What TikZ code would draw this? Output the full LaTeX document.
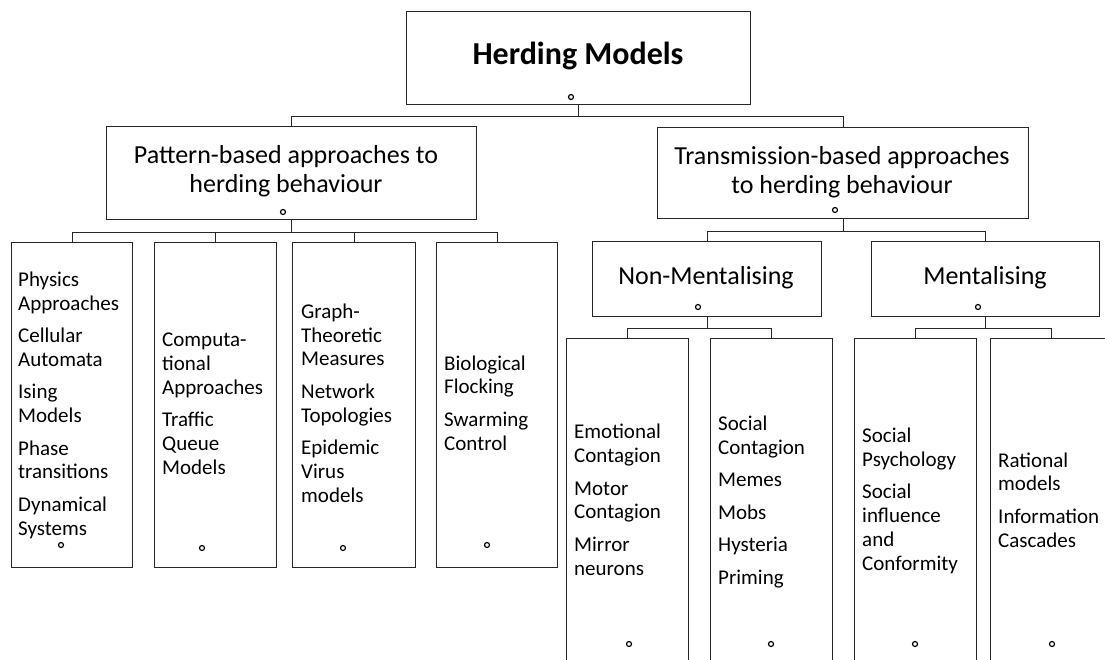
\documentclass[tikz,border=0pt]{standalone}
\usepackage{fontspec}
\setmainfont{Carlito}
\begin{document}
\begin{tikzpicture}[x=1pt,y=-1pt,
  box/.style={draw=black!85, line width=1.1pt, inner sep=0pt, anchor=north west},
  conn/.style={draw=black!85, line width=1pt},
  dot/.style={circle, draw=black, line width=1.2pt, inner sep=0pt, minimum size=5pt},
  titletext/.style={anchor=base, inner sep=0pt, font=\bfseries\fontsize{32}{38}\selectfont},
  midtext/.style={anchor=base, inner sep=0pt, align=center, font=\fontsize{26}{29}\selectfont},
  leaftext/.style={anchor=base west, inner sep=0pt, align=left, font=\fontsize{21}{23.7}\selectfont}]
\clip (0,0) rectangle (1105,659);
\fill[white] (0,0) rectangle (1105,659);

% boxes
\node[box, minimum width=344pt, minimum height=93pt] (root) at (406,11) {};
\node[box, minimum width=370pt, minimum height=93pt] (pat) at (106,126) {};
\node[box, minimum width=371pt, minimum height=91pt] (tra) at (657,127) {};
\node[box, minimum width=229pt, minimum height=75pt] (non) at (592,241) {};
\node[box, minimum width=228pt, minimum height=75pt] (men) at (871,241) {};
\node[box, minimum width=121pt, minimum height=325pt] (l1) at (11,242) {};
\node[box, minimum width=122pt, minimum height=325pt] (l2) at (154,242) {};
\node[box, minimum width=123pt, minimum height=325pt] (l3) at (292,242) {};
\node[box, minimum width=121pt, minimum height=325pt] (l4) at (436,242) {};
\node[box, minimum width=122pt, minimum height=360pt] (r1) at (566,338) {};
\node[box, minimum width=122pt, minimum height=360pt] (r2) at (710,338) {};
\node[box, minimum width=122pt, minimum height=360pt] (r3) at (854,338) {};
\node[box, minimum width=122pt, minimum height=360pt] (r4) at (990,338) {};

% connectors
\draw[conn] (root.south) -- ++(0,11) -| (pat.north);
\draw[conn] (root.south) -- ++(0,11) -| (tra.north);
\draw[conn] (pat.south) -- ++(0,12) -| (l1.north);
\draw[conn] (pat.south) -- ++(0,12) -| (l2.north);
\draw[conn] (pat.south) -- ++(0,12) -| (l3.north);
\draw[conn] (pat.south) -- ++(0,12) -| (l4.north);
\draw[conn] (tra.south) -- ++(0,12) -| (non.north);
\draw[conn] (tra.south) -- ++(0,12) -| (men.north);
\draw[conn] (non.south) -- ++(0,11) -| (r1.north);
\draw[conn] (non.south) -- ++(0,11) -| (r2.north);
\draw[conn] (men.south) -- ++(0,11) -| (r3.north);
\draw[conn] (men.south) -- ++(0,11) -| (r4.north);

% texts (anchor base = baseline of the last line)
\node[titletext] (rootT) at (578,64) {Herding Models};
\node[midtext] (patT) at (286,192) {Pattern-based approaches to\\herding behaviour};
\node[midtext] (traT) at (842,193) {Transmission-based approaches\\to herding behaviour};
\node[midtext] (nonT) at (706,284) {Non-Mentalising};
\node[midtext] (menT) at (985,284) {Mentalising};

\node[leaftext] (l1T) at (18,535) {Physics\\Approaches\\[8.8pt]Cellular\\Automata\\[8.8pt]Ising\\Models\\[8.8pt]Phase\\transitions\\[8.8pt]Dynamical\\Systems};
\node[leaftext] (l2T) at (162,474) {Computa-\\tional\\Approaches\\[8.8pt]Traffic\\Queue\\Models};
\node[leaftext] (l3T) at (301,502) {Graph-\\Theoretic\\Measures\\[8.8pt]Network\\Topologies\\[8.8pt]Epidemic\\Virus\\models};
\node[leaftext] (l4T) at (444,450) {Biological\\Flocking\\[8.8pt]Swarming\\Control};
\node[leaftext] (r1T) at (574,575) {Emotional\\Contagion\\[8.8pt]Motor\\Contagion\\[8.8pt]Mirror\\neurons};
\node[leaftext] (r2T) at (718,584) {Social\\Contagion\\[8.8pt]Memes\\[8.8pt]Mobs\\[8.8pt]Hysteria\\[8.8pt]Priming};
\node[leaftext] (r3T) at (862,570) {Social\\Psychology\\[8.8pt]Social\\influence\\and\\Conformity};
\node[leaftext] (r4T) at (998,547) {Rational\\models\\[8.8pt]Information\\Cascades};

% small circles
\node[dot] (rootD) at (571,97) {};
\node[dot] (patD) at (283,212) {};
\node[dot] (traD) at (835,210) {};
\node[dot] (nonD) at (698,307) {};
\node[dot] (menD) at (978,307) {};
\node[dot] (l1D) at (61,545) {};
\node[dot] (l2D) at (202,548) {};
\node[dot] (l3D) at (343,548) {};
\node[dot] (l4D) at (487,545) {};
\node[dot] (r1D) at (629,644) {};
\node[dot] (r2D) at (771,644) {};
\node[dot] (r3D) at (915,644) {};
\node[dot] (r4D) at (1052,644) {};
\end{tikzpicture}
\end{document}
